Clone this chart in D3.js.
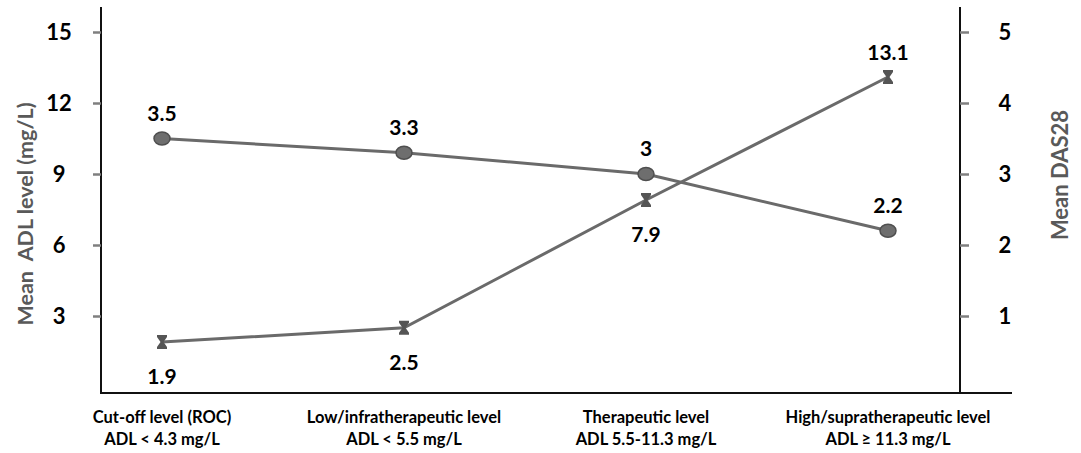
<!DOCTYPE html>
<html><head><meta charset="utf-8">
<script src="https://cdn.jsdelivr.net/npm/d3@7/dist/d3.min.js"></script>
<style>body{margin:0;background:#fff}svg{display:block}text{font-family:Lato,"Open Sans",sans-serif;font-weight:700}</style>
</head><body><svg id="c" width="1081" height="453"></svg>
<script>
const categories = ["Cut-off level (ROC)|ADL < 4.3 mg/L","Low/infratherapeutic level|ADL < 5.5 mg/L","Therapeutic level|ADL 5.5-11.3 mg/L","High/supratherapeutic level|ADL \u2265 11.3 mg/L"];
const adlValues = [1.9, 2.5, 7.9, 13.1];
const das28Values = [3.5, 3.3, 3.0, 2.2];
const leftTicks = [3, 6, 9, 12, 15];
const rightTicks = [1, 2, 3, 4, 5];

const svg = d3.select("#c");
const L = 101, R = 960, T = 7, B = 393, XEND = 1012;
const x = d3.scalePoint().domain(categories).range([162, 888]);
const yL = d3.scaleLinear().domain([3, 15]).range([316, 32]);
const yR = d3.scaleLinear().domain([1, 5]).range([316, 32]);
const lineGray = "#6a6a6a";

svg.append("line").attr("x1",L).attr("x2",L).attr("y1",T).attr("y2",B).attr("stroke","#111").attr("stroke-width",2);
svg.append("line").attr("x1",R).attr("x2",R).attr("y1",T).attr("y2",B).attr("stroke","#111").attr("stroke-width",2);
svg.append("line").attr("x1",L-1).attr("x2",XEND).attr("y1",B).attr("y2",B).attr("stroke","#111").attr("stroke-width",2);

const gl = svg.append("g").attr("transform",`translate(${L},0)`)
  .call(d3.axisLeft(yL).tickValues(leftTicks).tickFormat(d3.format("d")).tickSize(8).tickSizeOuter(0).tickPadding(0));
gl.select(".domain").remove();
gl.selectAll(".tick line").attr("stroke","#7f7f7f").attr("stroke-width",2.5);
gl.selectAll(".tick text").attr("x",-42).attr("text-anchor","middle").attr("dy","0.36em")
  .attr("font-size",22).attr("fill","#000");

const gr = svg.append("g").attr("transform",`translate(${R},0)`)
  .call(d3.axisRight(yR).tickValues(rightTicks).tickFormat(d3.format("d")).tickSize(9).tickSizeOuter(0).tickPadding(0));
gr.select(".domain").remove();
gr.selectAll(".tick line").attr("stroke","#7f7f7f").attr("stroke-width",2.5);
gr.selectAll(".tick text").attr("x",45).attr("text-anchor","middle").attr("dy","0.36em")
  .attr("font-size",22).attr("fill","#000");

svg.append("text").attr("transform","translate(33,214) rotate(-90)").attr("text-anchor","middle")
  .attr("font-size",21.5).attr("fill","#595959").attr("xml:space","preserve").text("Mean  ADL level (mg/L)");
svg.append("text").attr("transform","translate(1068,175) rotate(-90)").attr("text-anchor","middle")
  .attr("font-size",22).attr("fill","#595959").text("Mean DAS28");

const xl = svg.append("g");
categories.forEach(c => {
  const parts = c.split("|");
  const t = xl.append("text").attr("text-anchor","middle").attr("font-size",16.5).attr("fill","#000");
  t.append("tspan").attr("x",x(c)).attr("y",423).text(parts[0]);
  t.append("tspan").attr("x",x(c)).attr("y",445).text(parts[1]);
});

const lineL = d3.line().x((d,i)=>x(categories[i])).y(d=>yL(d));
const lineR = d3.line().x((d,i)=>x(categories[i])).y(d=>yR(d));
svg.append("path").attr("d",lineR(das28Values)).attr("fill","none").attr("stroke",lineGray).attr("stroke-width",3);
svg.append("path").attr("d",lineL(adlValues)).attr("fill","none").attr("stroke",lineGray).attr("stroke-width",3);

svg.selectAll(".cm").data(das28Values).join("ellipse")
  .attr("cx",(d,i)=>x(categories[i])).attr("cy",d=>yR(d)).attr("rx",8).attr("ry",6.5)
  .attr("fill","#6e6e6e").attr("stroke","#4f4f4f").attr("stroke-width",1.5);
const hg = "M-5,-7 L5,-7 L5,-5 L1.5,0 L5,5 L5,7 L-5,7 L-5,5 L-1.5,0 L-5,-5 Z";
svg.selectAll(".hm").data(adlValues).join("path")
  .attr("d",hg).attr("transform",(d,i)=>`translate(${x(categories[i])},${yL(d)})`)
  .attr("fill","#555");

svg.selectAll(".lr").data(das28Values).join("text")
  .attr("x",(d,i)=>x(categories[i])).attr("y",d=>yR(d)-18).attr("text-anchor","middle")
  .attr("font-size",21).attr("fill","#000").text(d=>d===3?"3":d.toFixed(1));
svg.selectAll(".ll").data(adlValues).join("text")
  .attr("x",(d,i)=>x(categories[i])).attr("y",(d,i)=> i===3 ? yL(d)-17 : yL(d)+42).attr("text-anchor","middle")
  .attr("font-size",21).attr("fill","#000").text(d=>d.toFixed(1));
</script></body></html>
